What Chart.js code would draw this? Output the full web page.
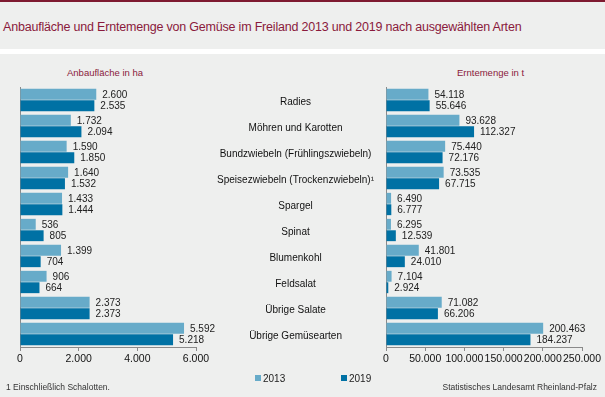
<!DOCTYPE html>
<html>
<head>
<meta charset="utf-8">
<script src="https://cdn.jsdelivr.net/npm/chart.js@4"></script>
<style>
  body { margin: 0; }
  #wrap { position: relative; width: 605px; height: 397px; background: #eeefee; overflow: hidden;
          font-family: "Liberation Sans", Arial, sans-serif; }
  #topline { position: absolute; left: 0; top: 0; width: 605px; height: 2px; background: #7e1a30; }
  #stripe { position: absolute; left: 0; top: 49px; width: 605px; height: 5px; background: #fff; }
  #title { position: absolute; left: 3px; top: 20px; font-size: 12.5px; color: #8a1a3c; letter-spacing: -0.2px; white-space: nowrap; }
  .sub { position: absolute; top: 67px; font-size: 9.5px; color: #8a1a3c; white-space: nowrap; }
  .foot { position: absolute; top: 382px; font-size: 8.5px; color: #333; white-space: nowrap; }
  .leg { position: absolute; top: 373px; font-size: 10px; color: #222; white-space: nowrap; }
  .leg span { display: inline-block; width: 6px; height: 6px; margin-right: 2px; vertical-align: 1px; }
  canvas { position: absolute; left: 0; top: 0; }
</style>
</head>
<body>
<div id="wrap">
  <div id="topline"></div>
  <div id="title">Anbaufläche und Erntemenge von Gemüse im Freiland 2013 und 2019 nach ausgewählten Arten</div>
  <div id="stripe"></div>
  <div class="sub" style="left:67px">Anbaufläche  in ha</div>
  <div class="sub" style="left:457px">Erntemenge  in t</div>
  <canvas id="left" width="605" height="397"></canvas>
  <canvas id="right" width="605" height="397"></canvas>
  <div class="leg" style="left:255px"><span style="background:#67abc9"></span>2013</div>
  <div class="leg" style="left:341px"><span style="background:#0071a4"></span>2019</div>
  <div class="foot" style="left:6px">1 Einschließlich Schalotten.</div>
  <div class="foot" style="right:8px">Statistisches Landesamt  Rheinland-Pfalz</div>
</div>
<script>
const categories = ['Radies', 'Möhren und Karotten', 'Bundzwiebeln (Frühlingszwiebeln)',
  'Speisezwiebeln (Trockenzwiebeln)¹', 'Spargel', 'Spinat', 'Blumenkohl', 'Feldsalat',
  'Übrige Salate', 'Übrige Gemüsearten'];
const years = ['2013', '2019'];
const area2013 = [2600, 1732, 1590, 1640, 1433, 536, 1399, 906, 2373, 5592];
const area2019 = [2535, 2094, 1850, 1532, 1444, 805, 704, 664, 2373, 5218];
const harvest2013 = [54118, 93628, 75440, 73535, 6490, 6295, 41801, 7104, 71082, 200463];
const harvest2019 = [55646, 112327, 72176, 67715, 6777, 12539, 24010, 2924, 66206, 184237];
const areaTicks = [0, 2000, 4000, 6000];
const harvestTicks = [0, 50000, 100000, 150000, 200000, 250000];

const light = '#67abc9';
const dark = '#0071a4';

Chart.defaults.font.family = '"Liberation Sans", Arial, sans-serif';
Chart.defaults.font.size = 10;
Chart.defaults.color = '#222';

// 1234567 -> 1.234.567
function fmt(v) {
  return String(v).replace(/\B(?=(\d{3})+(?!\d))/g, '.');
}

// value next to the end of each bar
const valueLabels = {
  id: 'valueLabels',
  afterDatasetsDraw(chart) {
    const ctx = chart.ctx;
    ctx.save();
    ctx.font = '10px "Liberation Sans", Arial, sans-serif';
    ctx.fillStyle = '#222';
    ctx.textBaseline = 'middle';
    chart.data.datasets.forEach((ds, i) => {
      chart.getDatasetMeta(i).data.forEach((bar, j) => {
        ctx.fillText(fmt(ds.data[j]), bar.x + 6, bar.y + 1);
      });
    });
    ctx.restore();
  }
};

function makeChart(id, d1, d2, tickValues, padding, yWidth, showLabels) {
  const max = tickValues[tickValues.length - 1];
  return new Chart(document.getElementById(id), {
    type: 'bar',
    data: {
      labels: categories,
      datasets: [
        { label: years[0], data: d1, backgroundColor: light, barPercentage: 0.95, categoryPercentage: 0.88 },
        { label: years[1], data: d2, backgroundColor: dark, barPercentage: 0.95, categoryPercentage: 0.88 }
      ]
    },
    options: {
      indexAxis: 'y',
      responsive: false,
      animation: false,
      devicePixelRatio: 1,
      layout: { padding: padding },
      plugins: { legend: { display: false }, tooltip: { enabled: false } },
      scales: {
        x: {
          min: 0,
          max: max,
          afterBuildTicks: (s) => { s.ticks = tickValues.map(v => ({ value: v })); },
          afterFit: (s) => { s.height = 20; },
          ticks: { padding: 2, maxRotation: 0, autoSkip: false, callback: (v) => fmt(v), color: '#111', font: { size: 10.5 } },
          grid: { drawOnChartArea: false, drawTicks: true, tickLength: 4, color: '#8a8a8a' },
          border: { color: '#8a8a8a' }
        },
        y: {
          afterFit: (s) => { s.width = yWidth; },
          ticks: { display: showLabels, crossAlign: 'center', padding: 12, labelOffset: 2, color: '#111' },
          grid: { display: false, drawTicks: false },
          border: { color: '#8a8a8a' }
        }
      }
    },
    plugins: [valueLabels]
  });
}

makeChart('left', area2013, area2019, areaTicks, { left: 20, top: 87, right: 409, bottom: 30 }, 0, false);
makeChart('right', harvest2013, harvest2019, harvestTicks, { left: 200, top: 87, right: 23, bottom: 30 }, 186, true);
</script>
</body>
</html>
